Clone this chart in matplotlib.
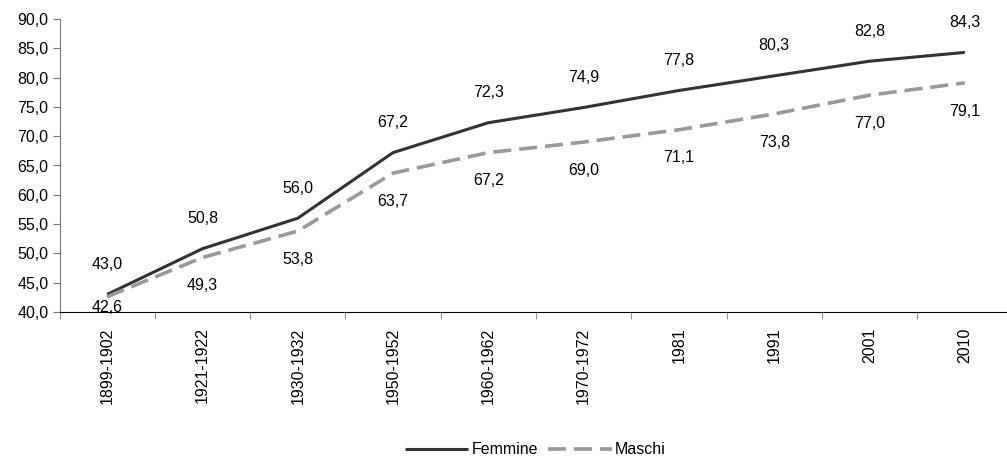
import matplotlib.pyplot as plt
from matplotlib.ticker import FixedLocator, NullFormatter

periodi = ['1899-1902', '1921-1922', '1930-1932', '1950-1952', '1960-1962',
           '1970-1972', '1981', '1991', '2001', '2010']
femmine = [43.0, 50.8, 56.0, 67.2, 72.3, 74.9, 77.8, 80.3, 82.8, 84.3]
maschi = [42.6, 49.3, 53.8, 63.7, 67.2, 69.0, 71.1, 73.8, 77.0, 79.1]

plt.rcParams['font.family'] = ['Liberation Sans', 'DejaVu Sans']
plt.rcParams['font.size'] = 11.5


def virgola(v):
    return f'{v:.1f}'.replace('.', ',')


fig = plt.figure(figsize=(10.07, 4.59), dpi=100)
ax = fig.add_axes([59.5 / 1007, 147 / 459, 953 / 1007, 293 / 459])

x = range(len(periodi))
ax.plot(x, femmine, color='#333333', lw=2.2, solid_capstyle='butt', label='Femmine')
ax.plot(x, maschi, color='#999999', lw=2.6, dashes=(5, 2.2), label='Maschi')

# etichette dei valori: sopra le femmine, sotto i maschi (senza uscire dal grafico)
for i, v in enumerate(femmine):
    ax.text(i, v + 5.1, virgola(v), ha='center', va='center', color='black')
for i, v in enumerate(maschi):
    ax.text(i, max(v - 4.8, 40.7), virgola(v), ha='center', va='center', color='black')

ax.set_xlim(-0.5, len(periodi) - 0.5)
ax.set_ylim(40, 90)
ax.set_yticks([40 + 5 * k for k in range(11)])
ax.set_yticklabels([virgola(40 + 5 * k) for k in range(11)])

ax.set_xticks(list(x))
ax.set_xticklabels(periodi, rotation=90)
ax.tick_params(axis='x', which='major', length=0, pad=11)
ax.xaxis.set_minor_locator(FixedLocator([i - 0.5 for i in range(len(periodi) + 1)]))
ax.xaxis.set_minor_formatter(NullFormatter())
ax.tick_params(axis='x', which='minor', length=5, color='#777777')
ax.tick_params(axis='y', length=5, color='#777777', pad=3)

for s in ['top', 'right']:
    ax.spines[s].set_visible(False)
ax.spines['left'].set_color('#777777')
ax.spines['bottom'].set_color('black')

fig.legend(loc='center', bbox_to_anchor=(535 / 1007, 1 - 450 / 459), ncol=2,
           frameon=False, handlelength=4.0, handletextpad=0.2, columnspacing=0.6,
           borderpad=0)

fig.savefig('out.png', dpi=100)
